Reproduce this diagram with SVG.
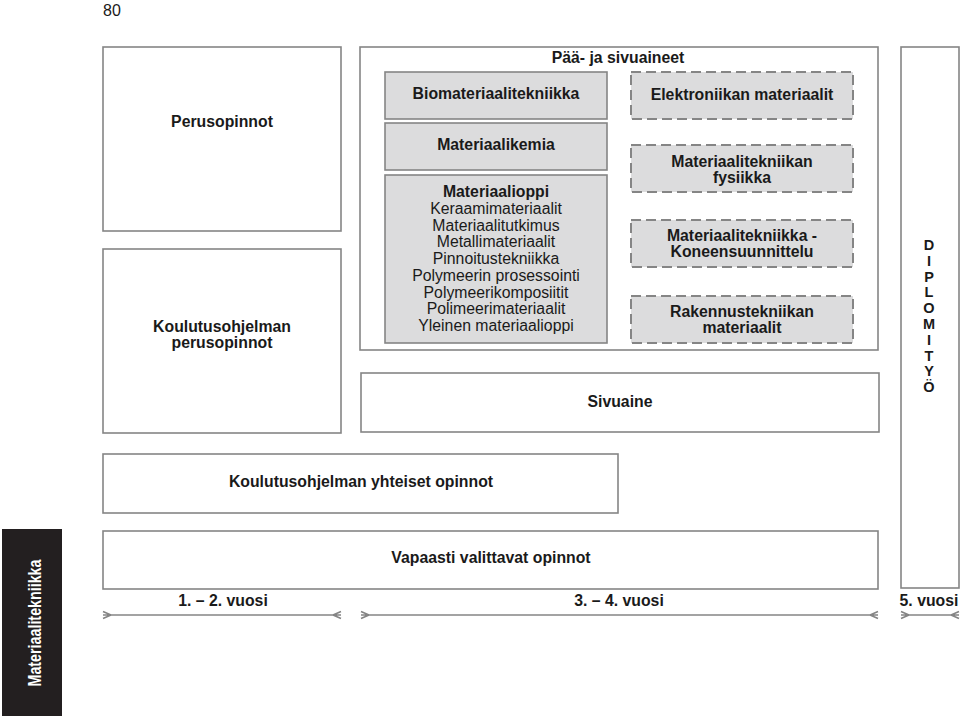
<svg xmlns="http://www.w3.org/2000/svg" width="960" height="717" viewBox="0 0 960 717">
<style>
.box{fill:#fff;stroke:#858585;stroke-width:1.6}
.gbox{fill:#dcdcdd;stroke:#858585;stroke-width:1.6}
.dbox{fill:#dcdcdd;stroke:#858585;stroke-width:2;stroke-dasharray:10 5}
text{font-family:"Liberation Sans",Arial,sans-serif;fill:#1a1a1a}
.b{font-weight:bold;font-size:15.8px;text-anchor:middle}
.r{font-size:15.8px;text-anchor:middle}
.ln{stroke:#858585;stroke-width:1.6;fill:none}
.dl{font-weight:bold;font-size:14.5px;text-anchor:middle}
</style>
<rect width="960" height="717" fill="#fff"/>
<text x="103" y="16" style="font-size:16px">80</text>

<g id="perusopinnot">
<rect class="box" x="103" y="47" width="238" height="184"/>
<text class="b" x="222" y="127">Perusopinnot</text>
</g>
<g id="koulutusohjelman-perusopinnot">
<rect class="box" x="103" y="249" width="238" height="184"/>
<text class="b" x="222" y="332">Koulutusohjelman</text>
<text class="b" x="222" y="348">perusopinnot</text>
</g>
<g id="paa-ja-sivuaineet">
<rect class="box" x="360" y="47" width="518" height="303"/>
<text class="b" x="618" y="63">Pää- ja sivuaineet</text>
</g>
<g id="biomateriaalitekniikka">
<rect class="gbox" x="385" y="72" width="222" height="47"/>
<text class="b" x="496" y="99">Biomateriaalitekniikka</text>
</g>
<g id="materiaalikemia">
<rect class="gbox" x="385" y="123" width="222" height="47"/>
<text class="b" x="496" y="150">Materiaalikemia</text>
</g>
<g id="materiaalioppi">
<rect class="gbox" x="385" y="175" width="222" height="168"/>
<text class="b" x="496" y="197">Materiaalioppi</text>
<text class="r" x="496" y="214">Keraamimateriaalit</text>
<text class="r" x="496" y="231">Materiaalitutkimus</text>
<text class="r" x="496" y="247">Metallimateriaalit</text>
<text class="r" x="496" y="264">Pinnoitustekniikka</text>
<text class="r" x="496" y="281">Polymeerin prosessointi</text>
<text class="r" x="496" y="298">Polymeerikomposiitit</text>
<text class="r" x="496" y="314">Polimeerimateriaalit</text>
<text class="r" x="496" y="331">Yleinen materiaalioppi</text>
</g>
<g id="elektroniikan-materiaalit">
<rect class="dbox" x="631" y="72" width="222" height="47"/>
<text class="b" x="742" y="100">Elektroniikan materiaalit</text>
</g>
<g id="materiaalitekniikan-fysiikka">
<rect class="dbox" x="631" y="145" width="222" height="47"/>
<text class="b" x="742" y="167">Materiaalitekniikan</text>
<text class="b" x="742" y="183">fysiikka</text>
</g>
<g id="koneensuunnittelu">
<rect class="dbox" x="631" y="220" width="222" height="47"/>
<text class="b" x="742" y="241">Materiaalitekniikka -</text>
<text class="b" x="742" y="257">Koneensuunnittelu</text>
</g>
<g id="rakennustekniikan-materiaalit">
<rect class="dbox" x="631" y="296" width="222" height="47"/>
<text class="b" x="742" y="317">Rakennustekniikan</text>
<text class="b" x="742" y="333">materiaalit</text>
</g>
<g id="diplomityo">
<rect class="box" x="901" y="47" width="58" height="541"/>
<text class="dl" x="929" y="250">D</text>
<text class="dl" x="929" y="266">I</text>
<text class="dl" x="929" y="282">P</text>
<text class="dl" x="929" y="297">L</text>
<text class="dl" x="929" y="313">O</text>
<text class="dl" x="929" y="329">M</text>
<text class="dl" x="929" y="345">I</text>
<text class="dl" x="929" y="361">T</text>
<text class="dl" x="929" y="376">Y</text>
<text class="dl" x="929" y="392">Ö</text>
</g>
<g id="sivuaine">
<rect class="box" x="361" y="373" width="518" height="59"/>
<text class="b" x="620" y="407">Sivuaine</text>
</g>
<g id="yhteiset-opinnot">
<rect class="box" x="103" y="454" width="515" height="59"/>
<text class="b" x="361" y="487">Koulutusohjelman yhteiset opinnot</text>
</g>
<g id="vapaasti-valittavat">
<rect class="box" x="103" y="531" width="775" height="58"/>
<text class="b" x="491" y="563">Vapaasti valittavat opinnot</text>
</g>
<g id="connectors">
<path class="ln" d="M103 615H341M103 611.5L111 615L103 618.5M341 611.5L333 615L341 618.5"/>
<path class="ln" d="M361 615H878M361 611.5L369 615L361 618.5M878 611.5L870 615L878 618.5"/>
<path class="ln" d="M901 615H959M901 611.5L909 615L901 618.5M959 611.5L951 615L959 618.5"/>
</g>
<g id="years">
<text class="b" x="223" y="606">1. – 2. vuosi</text>
<text class="b" x="619" y="606">3. – 4. vuosi</text>
<text class="b" x="929" y="606">5. vuosi</text>
</g>
<g id="materiaalitekniikka-label">
<rect x="2" y="529" width="60" height="187" fill="#231f20"/>
<text transform="translate(41 623) rotate(-90)" style="font-weight:bold;font-size:18px;text-anchor:middle;fill:#fff" textLength="127" lengthAdjust="spacingAndGlyphs">Materiaalitekniikka</text>
</g>
</svg>
